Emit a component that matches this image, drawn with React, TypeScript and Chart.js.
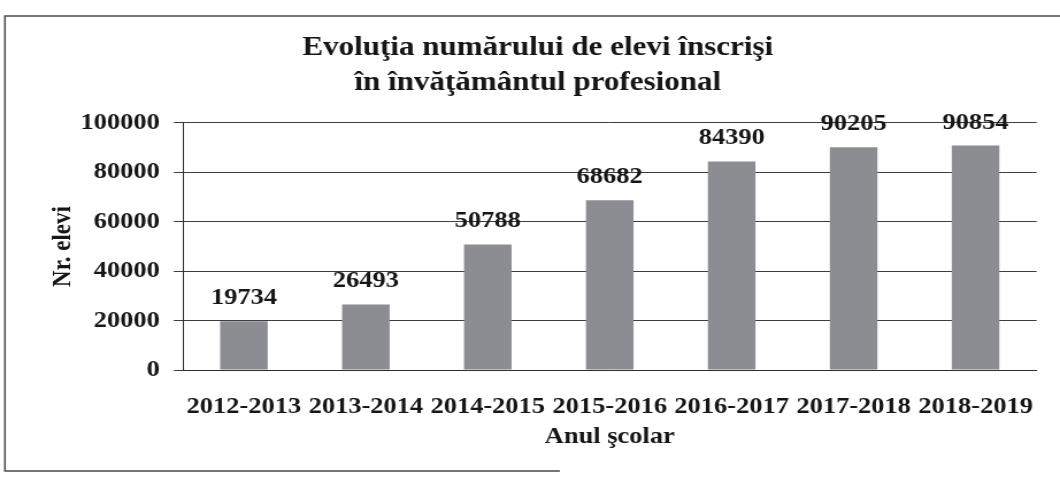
import React, { useEffect, useRef } from 'react';
import { Chart, registerables } from 'chart.js';

Chart.register(...registerables);

// The scanned reference is stretched horizontally; we draw on a narrower canvas
// and let CSS stretch it to the page width.
const SCALE_X = 1.15;
const PAGE_W = 1060;
const PAGE_H = 477;
const CANVAS_W = Math.round(PAGE_W / SCALE_X);

const categories = [
  '2012-2013',
  '2013-2014',
  '2014-2015',
  '2015-2016',
  '2016-2017',
  '2017-2018',
  '2018-2019',
];
const values = [19734, 26493, 50788, 68682, 84390, 90205, 90854];
const titleLines = ['Evoluţia numărului de elevi înscrişi', 'în învăţământul profesional'];
const yAxisTitle = 'Nr. elevi';
const xAxisTitle = 'Anul şcolar';
const yMin = 0;
const yMax = 100000;
const yStep = 20000;

const FONT = '"Liberation Serif", "Times New Roman", serif';
const INK = '#161616';
const BAR = '#8c8c93';

export default function App() {
  const ref = useRef<HTMLCanvasElement>(null);

  useEffect(() => {
    const canvas = ref.current;
    if (!canvas) return;

    const framePlugin = {
      id: 'frame',
      beforeDraw(chart: any) {
        const ctx = chart.ctx;
        ctx.save();
        ctx.fillStyle = '#ffffff';
        ctx.fillRect(0, 0, chart.width, chart.height);
        ctx.strokeStyle = '#4a4a4a';
        ctx.lineWidth = 1.5;
        ctx.beginPath();
        ctx.moveTo(chart.width, 16);
        ctx.lineTo(4.3, 16);
        ctx.lineTo(4.3, 471);
        ctx.lineTo(487, 471);
        ctx.stroke();
        ctx.restore();
      },
    };

    const valueLabels = {
      id: 'valueLabels',
      afterDatasetsDraw(chart: any) {
        const ctx = chart.ctx;
        const meta = chart.getDatasetMeta(0);
        const data = chart.data.datasets[0].data;
        ctx.save();
        ctx.font = `bold 23px ${FONT}`;
        ctx.fillStyle = INK;
        ctx.textAlign = 'center';
        ctx.textBaseline = 'middle';
        meta.data.forEach((bar: any, i: number) => {
          ctx.fillText(String(data[i]), bar.x, bar.y - 23);
        });
        ctx.restore();
      },
    };

    const chart = new Chart(canvas, {
      type: 'bar',
      data: {
        labels: categories,
        datasets: [
          {
            data: values,
            backgroundColor: BAR,
            borderWidth: 0,
            barPercentage: 0.39,
            categoryPercentage: 1,
          },
        ],
      },
      options: {
        responsive: false,
        devicePixelRatio: 1,
        animation: false,
        events: [],
        layout: { padding: { left: 19.1, right: 5.5, top: 0, bottom: 0 } },
        plugins: {
          legend: { display: false },
          tooltip: { enabled: false },
          title: {
            display: true,
            text: titleLines,
            color: INK,
            font: { family: FONT, size: 27, weight: 'bold', lineHeight: 1.296 },
            padding: { top: 30.5, bottom: 22.5 },
          },
        },
        scales: {
          x: {
            grid: { display: false, drawTicks: false },
            border: { display: true, color: '#2e2e2e', width: 1 },
            ticks: {
              color: INK,
              font: { family: FONT, size: 23, weight: 'bold' },
              padding: 23.2,
              maxRotation: 0,
              autoSkip: false,
            },
            title: {
              display: true,
              text: xAxisTitle,
              color: INK,
              font: { family: FONT, size: 23, weight: 'bold' },
              padding: { top: 4, bottom: 26.2 },
            },
            afterFit(scale: any) {
              scale.height = 107;
            },
          },
          y: {
            min: yMin,
            max: yMax,
            ticks: {
              stepSize: yStep,
              color: INK,
              font: { family: FONT, size: 23, weight: 'bold' },
              padding: 12,
              callback: (v: any) => String(v),
            },
            grid: { color: '#3c3c3c', lineWidth: 1, tickLength: 8, drawTicks: true },
            border: { display: true, color: '#2e2e2e', width: 1 },
            title: {
              display: true,
              text: yAxisTitle,
              color: INK,
              font: { family: FONT, size: 23, weight: 'bold' },
              padding: { top: 21.9, bottom: 0 },
            },
            afterFit(scale: any) {
              scale.width = 140;
            },
          },
        },
      },
      plugins: [framePlugin, valueLabels],
    } as any);

    return () => chart.destroy();
  }, []);

  return (
    <div
      style={{
        position: 'absolute',
        left: 0,
        top: 0,
        width: PAGE_W,
        height: PAGE_H,
        background: '#ffffff',
        overflow: 'hidden',
      }}
    >
      <canvas
        ref={ref}
        width={CANVAS_W}
        height={PAGE_H}
        style={{ width: `${PAGE_W}px`, height: `${PAGE_H}px`, display: 'block' }}
      />
    </div>
  );
}
